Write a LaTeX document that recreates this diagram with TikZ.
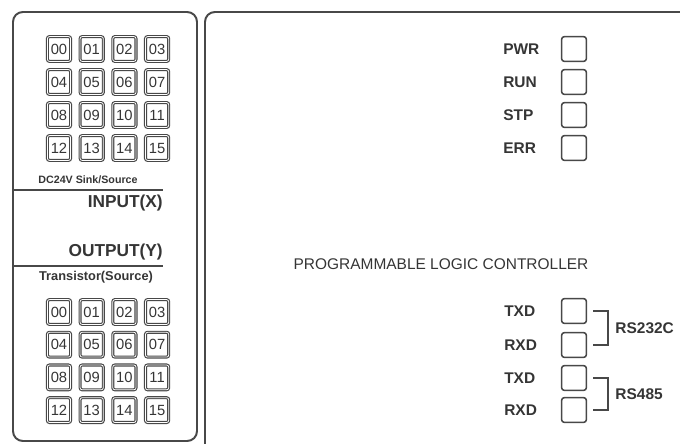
\documentclass[tikz,border=0pt]{standalone}
\usepackage{xcolor}
\usepackage{fontspec}
\setmainfont{Liberation Sans}
\usepackage{tikz}
\usetikzlibrary{positioning, calc}

\definecolor{edgegray}{HTML}{484848}
\definecolor{inkgray}{HTML}{353535}

\begin{document}
\begin{tikzpicture}[
    x=0.025cm, y=-0.025cm,
    panel/.style = {
        draw=edgegray, line width=1.4pt, rounded corners=7pt
    },
    iobox/.style = {
        draw=edgegray, double, double distance=0.55pt, line width=0.8pt,
        rounded corners=1.5pt, minimum width=0.58cm, minimum height=0.62cm,
        inner sep=0pt, text=inkgray, font=\fontsize{10.5}{12}\selectfont
    },
    ledbox/.style = {
        draw=edgegray, line width=1.1pt, rounded corners=2pt,
        minimum size=0.62cm, inner sep=0pt
    },
    ledlabel/.style = {
        anchor=west, inner sep=0pt, text=inkgray,
        font=\bfseries\fontsize{11}{13}\selectfont
    },
    bracket/.style = {
        draw=edgegray, line width=1.1pt
    }
]

\clip (0,0) rectangle (680,443);

% Panels
\draw[panel] (13,12) rectangle (197,441);
\draw[panel] (205,12) rectangle (720,470);

% Input block
\foreach \r in {0,...,3} {
  \foreach \c in {0,...,3} {
    \pgfmathtruncatemacro{\n}{4*\r+\c}
    \node[iobox] (in\n) at ({59+32.7*\c}, {49+33*\r}) {\ifnum\n<10 0\fi\n};
  }
}
\node[text=inkgray, font=\bfseries\fontsize{7.6}{9}\selectfont, inner sep=0pt]
    (insrc) at (88,180) {DC24V Sink/Source};
\draw[edgegray, line width=1.1pt] (13,190) -- (163,190);
\node[anchor=east, text=inkgray, font=\bfseries\fontsize{12.3}{14}\selectfont, inner sep=0pt]
    (inttl) at (163,203) {INPUT(X)};

% Output block
\node[anchor=east, text=inkgray, font=\bfseries\fontsize{12.3}{14}\selectfont, inner sep=0pt]
    (outttl) at (163,252) {OUTPUT(Y)};
\draw[edgegray, line width=1.1pt] (13,266) -- (163,266);
\node[text=inkgray, font=\bfseries\fontsize{9.1}{11}\selectfont, inner sep=0pt]
    (outsrc) at (96,277) {Transistor(Source)};
\foreach \r in {0,...,3} {
  \foreach \c in {0,...,3} {
    \pgfmathtruncatemacro{\n}{4*\r+\c}
    \node[iobox] (out\n) at ({59+32.7*\c}, {312+32.7*\r}) {\ifnum\n<10 0\fi\n};
  }
}

% Status LEDs
\node[ledbox] (pwr) at (574,49)  {};
\node[ledbox] (run) at (574,82)  {};
\node[ledbox] (stp) at (574,115) {};
\node[ledbox] (err) at (574,148) {};
\node[ledlabel] (pwrl) at (503,49)  {PWR};
\node[ledlabel] (runl) at (503,82)  {RUN};
\node[ledlabel] (stpl) at (503,115) {STP};
\node[ledlabel] (errl) at (503,148) {ERR};

\node[text=inkgray, font=\fontsize{11}{13}\selectfont, inner sep=0pt]
    (plc) at (441,264) {PROGRAMMABLE LOGIC CONTROLLER};

% Port LEDs
\node[ledbox] (txdA) at (574,311) {};
\node[ledbox] (rxdA) at (574,345) {};
\node[ledbox] (txdB) at (574,378) {};
\node[ledbox] (rxdB) at (574,410) {};
\node[ledlabel] (txdAl) at (504,311) {TXD};
\node[ledlabel] (rxdAl) at (504,345) {RXD};
\node[ledlabel] (txdBl) at (504,378) {TXD};
\node[ledlabel] (rxdBl) at (504,410) {RXD};

% Brackets
\draw[bracket] ($(txdA.east)+(6,0)$) -- ++(15,0) |- ($(rxdA.east)+(6,0)$);
\draw[bracket] ($(txdB.east)+(6,0)$) -- ++(15,0) |- ($(rxdB.east)+(6,0)$);
\node[ledlabel] (rs232) at ($(txdA.east)!0.5!(rxdA.east)+(28,0)$) {RS232C};
\node[ledlabel] (rs485) at ($(txdB.east)!0.5!(rxdB.east)+(28,0)$) {RS485};

\end{tikzpicture}
\end{document}
